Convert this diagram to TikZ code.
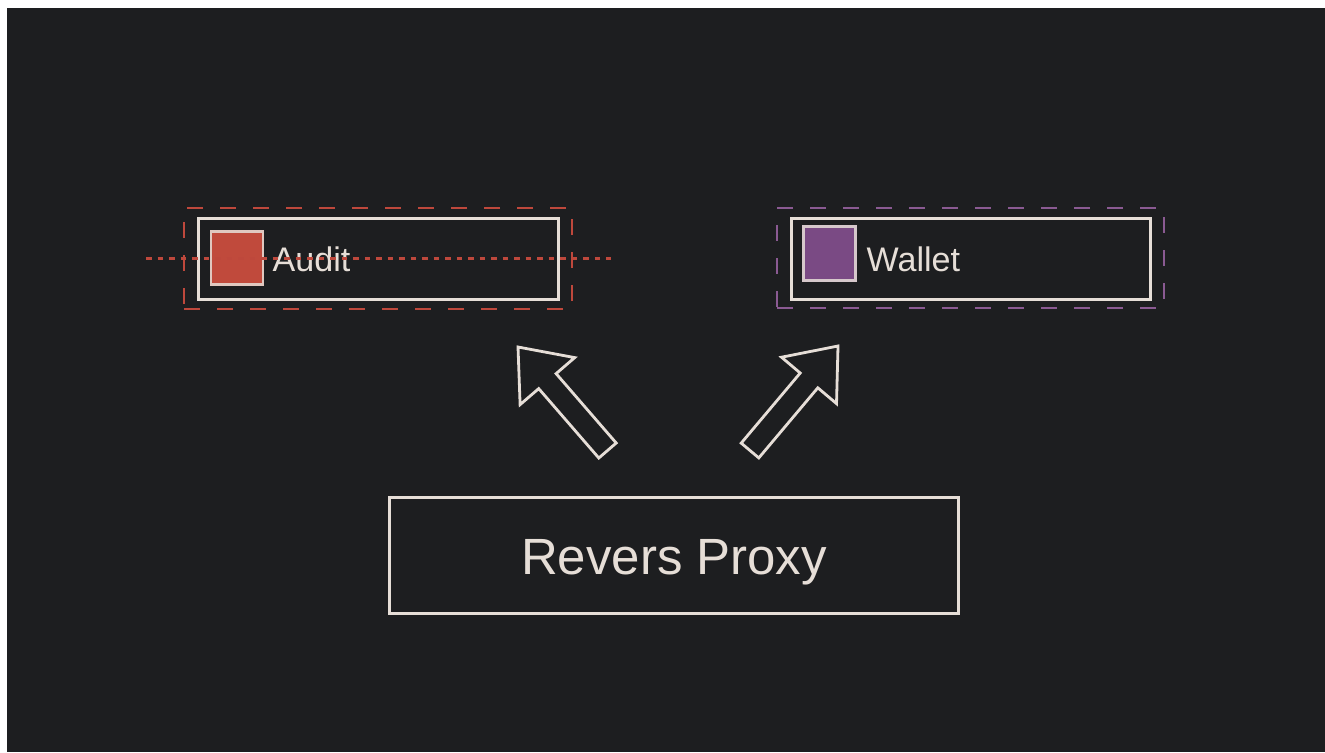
\documentclass[tikz,border=0pt]{standalone}
\usepackage{fontspec}
\setmainfont{Liberation Sans}
\definecolor{bg}{HTML}{1D1E20}
\definecolor{ink}{HTML}{E6DED7}
\definecolor{auditred}{HTML}{BE483C}
\definecolor{auditfill}{HTML}{C04A3C}
\definecolor{walletpurple}{HTML}{8A5A92}
\definecolor{walletfill}{HTML}{7A4A84}
\tikzset{
  frame/.style={draw=ink, line width=0.3mm, inner sep=0pt, fill=none},
  zone/.style={draw=#1, line width=0.26mm, dash pattern=on 1.6mm off 1.7mm, inner sep=0pt},
  swatch/.style={fill=#1, draw=ink!85!#1, line width=0.25mm, inner sep=0pt},
  label/.style={text=ink, inner sep=0pt, font=\fontsize{9.7pt}{11pt}\selectfont},
  biglabel/.style={text=ink, inner sep=0pt, font=\fontsize{14.5pt}{17pt}\selectfont},
  blockarrow/.style={draw=ink, line width=0.28mm, line join=miter, fill=bg},
  guide/.style={draw=auditred, line width=0.3mm, dash pattern=on 0.55mm off 0.6mm}
}
\begin{document}
\begin{tikzpicture}[x=0.1mm, y=-0.1mm]
  % canvas and dark panel
  \fill[white] (0,0) rectangle (1325,752);
  \fill[bg] (7,8) rectangle (1325,752);
  \useasboundingbox (0,0) rectangle (1325,752);

  % Audit service
  \node[zone=auditred, minimum width=38.8mm, minimum height=10.1mm] (auditzone) at (378,258.5) {};
  \node[frame, minimum width=36mm, minimum height=8.1mm] (audit) at (378,258.5) {};
  \node[swatch=auditfill, minimum width=5.2mm, minimum height=5.3mm] (auditicon) at (237,258) {};
  \node[label, anchor=base west] (audittext) at (272,271) {Audit};

  % Wallet service
  \node[zone=walletpurple, minimum width=38.7mm, minimum height=10mm] (walletzone) at (970.5,258) {};
  \node[frame, minimum width=35.9mm, minimum height=8.1mm] (wallet) at (970.5,258.5) {};
  \node[swatch=walletfill, minimum width=5.2mm, minimum height=5.4mm] (walleticon) at (829.5,253.5) {};
  \node[label, anchor=base west] (wallettext) at (866,271) {Wallet};

  % Reverse proxy
  \node[frame, minimum width=56.9mm, minimum height=11.6mm] (proxy) at (673.5,555) {};
  \node[biglabel, anchor=base] (proxytext) at (674,574) {Revers Proxy};

  % block arrows from the proxy up to the services
  \draw[blockarrow] (518,347) -- (574.7,357.6) -- (556.1,373.6) -- (616.2,443)
    -- (598.8,458) -- (538.7,388.6) -- (520.1,404.6) -- cycle;
  \draw[blockarrow] (838,346) -- (836.5,403.6) -- (817.8,387.8) -- (758.8,457.9)
    -- (741.2,443.1) -- (800.2,373) -- (781.5,357.2) -- cycle;

  % dotted guide line across the Audit service
  \coordinate (guideL) at (146,258);
  \coordinate (guideR) at (611,258);
  \draw[guide] (guideL) -- (guideR);
\end{tikzpicture}
\end{document}
